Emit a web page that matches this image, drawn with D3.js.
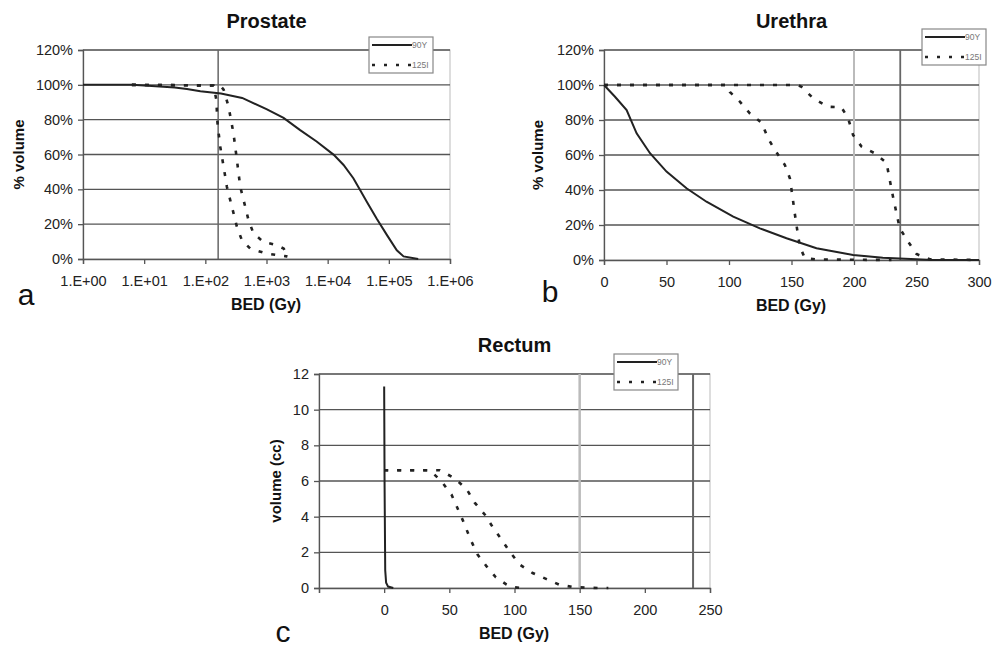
<!DOCTYPE html>
<html>
<head>
<meta charset="utf-8">
<script src="https://cdn.jsdelivr.net/npm/d3@7"></script>
<style>
body { margin:0; background:#fff; }
svg { font-family: "Liberation Sans", Arial, sans-serif; }
</style>
</head>
<body>
<svg id="chart" width="1003" height="649"></svg>
<script>
// ---- data ----
// Prostate, x = BED (Gy) on log axis, y = % volume
var prostY90x = [1, 6.3, 10, 31.6, 50, 83, 180, 400, 1000, 1900, 3550, 6600, 12600, 18200, 26300, 33900, 43600, 63100, 93300, 135000, 174000, 302000]
var prostY90y = [100, 100, 99.6, 98.5, 97.6, 96.3, 95, 92.5, 86, 81, 74, 67.5, 59.8, 54, 46.4, 39.6, 32.9, 23.3, 13.7, 5, 1.5, 0]
var prostIaX = [6.3, 136, 151, 158, 175, 199, 225, 272, 328, 396, 542, 1000, 2140, 2200]
var prostIaY = [100, 99.6, 91.6, 78.1, 64.6, 53, 41.5, 30, 18.5, 10.8, 6, 3.1, 1.5, 1.4]
var prostIbX = [6.3, 175, 199, 239, 288, 328, 372, 449, 508, 614, 893, 1479, 1905, 2188, 2200]
var prostIbY = [100, 99.6, 97.3, 87.7, 72.3, 57, 41.5, 30, 22.3, 14.6, 9.8, 7.9, 6, 2.7, 1.4]

// Urethra, x = BED (Gy), y = % volume
var urY90x = [0, 8.8, 18.1, 26.1, 36.8, 50, 66, 82, 103.4, 124.7, 146, 170, 199.3, 223, 250, 263, 300]
var urY90y = [100, 93.3, 85.7, 72.4, 61, 50.5, 41, 33.3, 24.8, 18.1, 12.4, 6.7, 2.9, 1.3, 0.4, 0, 0]
var urIaX = [0, 98, 100.7, 108.7, 116.6, 126, 131.3, 136.7, 144.7, 148.7, 150.8, 152.6, 154.6, 156.7, 160.7, 170, 230]
var urIaY = [100, 100, 96, 90.5, 83.8, 78.5, 69.5, 62.9, 54.3, 46.7, 36.2, 26.7, 17.1, 7.6, 1, 0.3, 0]
var urIbX = [0, 155, 158, 167.3, 179.3, 190, 195.3, 199.3, 206, 216.6, 226, 228.6, 231.2, 234, 236.6, 243.3, 250, 260.6, 300]
var urIbY = [100, 100, 99, 92.4, 87.6, 87.2, 81, 71.4, 64.8, 61, 55.6, 45.7, 36.2, 26.7, 18.1, 10.5, 3.4, 0.4, 0]

// Rectum, x = BED (Gy), y = volume (cc)
var reY90x = [0, 0.3, 0.8, 1.5, 3, 7]
var reY90y = [11.3, 6, 1, 0.3, 0.08, 0]
var reIaX = [0, 35, 44, 51.7, 56.8, 61.2, 65.8, 71.4, 78.6, 85.7, 93.9, 97.8, 105.5]
var reIaY = [6.6, 6.6, 5.98, 5.23, 4.39, 3.65, 2.8, 1.9, 1.21, 0.6, 0.19, 0.05, 0]
var reIbX = [0, 42.7, 49.1, 54.3, 63.2, 69.6, 77.3, 83.2, 90.1, 96.5, 104.1, 113.9, 124.6, 134.3, 145, 164, 172]
var reIbY = [6.6, 6.6, 6.35, 6.13, 5.55, 4.77, 4.11, 3.42, 2.71, 2.02, 1.31, 0.84, 0.5, 0.19, 0.05, 0, 0]

var prostXTicks = [1, 10, 100, 1000, 10000, 100000, 1000000]
var pctTicks = [0, 20, 40, 60, 80, 100, 120]
var urXTicks = [0, 50, 100, 150, 200, 250, 300]
var reXTicks = [-50, 0, 50, 100, 150, 200, 250]
var reYTicks = [0, 2, 4, 6, 8, 10, 12]
var legendNames = ["90Y", "125I"]

function zip(xs, ys) { return xs.map(function(x, i) { return [x, ys[i]] }) }

var svg = d3.select("#chart")

var drawPanel = function(p)
{
    var g = svg.append("g")
    var x = p.xScale.range([p.left, p.right])
    var y = d3.scaleLinear().domain(p.yDomain).range([p.bottom, p.top])

    // plot area frame
    g.append("rect")
        .attr("x", p.left).attr("y", p.top)
        .attr("width", p.right - p.left).attr("height", p.bottom - p.top)
        .attr("fill", "none").attr("stroke", "#bbb").attr("stroke-width", 1)

    // horizontal gridlines
    g.selectAll(".grid").data(p.yTicks.slice(1)).enter()
        .append("line")
        .attr("x1", p.left).attr("x2", p.right)
        .attr("y1", function(d) { return y(d) }).attr("y2", function(d) { return y(d) })
        .attr("stroke", "#555").attr("stroke-width", 1.3)

    // reference lines
    p.refs.forEach(function(r)
    {
        g.append("line")
            .attr("x1", x(r.v)).attr("x2", x(r.v))
            .attr("y1", p.top).attr("y2", p.bottom)
            .attr("stroke", r.c).attr("stroke-width", r.w)
    })

    // axes
    var xAxis = d3.axisBottom(x).tickValues(p.xTicks).tickSize(5).tickFormat(p.xFormat)
    var yAxis = d3.axisLeft(y).tickValues(p.yTicks).tickSize(5).tickFormat(p.yFormat)
    var gx = g.append("g").attr("transform", "translate(0," + p.bottom + ")").call(xAxis)
    var gy = g.append("g").attr("transform", "translate(" + p.left + ",0)").call(yAxis)
    ;[gx, gy].forEach(function(a)
    {
        a.select(".domain").attr("stroke", "#555").attr("stroke-width", 1.3)
        a.selectAll(".tick line").attr("stroke", "#555").attr("stroke-width", 1.3)
        a.selectAll(".tick text").attr("font-size", 14.5).attr("fill", "#222")
            .attr("font-family", "'Liberation Sans', Arial, sans-serif")
    })
    gx.selectAll(".tick text").attr("y", 27).attr("dy", 0)
    gy.selectAll(".tick text").attr("x", -10)

    // curves
    var line = d3.line().x(function(d) { return x(d[0]) }).y(function(d) { return y(d[1]) })
    g.append("path").datum(p.solid)
        .attr("d", line).attr("fill", "none").attr("stroke", "#222").attr("stroke-width", 2)
    p.dashed.forEach(function(s)
    {
        g.append("path").datum(s)
            .attr("d", line).attr("fill", "none").attr("stroke", "#222")
            .attr("stroke-width", 2.6).attr("stroke-dasharray", "4,9")
    })

    // titles
    g.append("text").attr("x", (p.left + p.right) / 2).attr("y", p.top - 22)
        .attr("text-anchor", "middle").attr("font-size", 20).attr("font-weight", "bold")
        .attr("fill", "#111").text(p.title)
    g.append("text").attr("x", p.xLabelX).attr("y", p.bottom + 51)
        .attr("text-anchor", "middle").attr("font-size", 16).attr("font-weight", "bold")
        .attr("fill", "#111").text("BED (Gy)")
    g.append("text")
        .attr("transform", "translate(" + p.yLabelX + "," + ((p.top + p.bottom) / 2) + ") rotate(-90)")
        .attr("text-anchor", "middle").attr("font-size", 15).attr("font-weight", "bold")
        .attr("fill", "#111").text(p.yLabel)
    g.append("text").attr("x", p.letter[0]).attr("y", p.letter[1])
        .attr("text-anchor", "middle").attr("font-size", 30).attr("fill", "#111").text(p.letterText)

    // legend
    var lg = g.append("g").attr("transform", "translate(" + p.legend[0] + "," + p.legend[1] + ")")
    lg.append("rect").attr("width", 64).attr("height", 36)
        .attr("fill", "#fff").attr("stroke", "#888").attr("stroke-width", 1.2)
    legendNames.forEach(function(name, i)
    {
        var ly = 8 + i * 20
        lg.append("line").attr("x1", 3).attr("x2", 43).attr("y1", ly).attr("y2", ly)
            .attr("stroke", "#222").attr("stroke-width", i == 0 ? 2 : 2.5)
            .attr("stroke-dasharray", i == 0 ? null : "3,9")
        lg.append("text").attr("x", 43).attr("y", ly + 3)
            .attr("font-size", 8.5).attr("fill", "#777").text(name)
    })
}

var logFmt = function(d) { return "1.E+" + String(Math.round(Math.log10(d))).padStart(2, "0") }
var pctFmt = function(d) { return d + "%" }

drawPanel({
    title: "Prostate", letterText: "a", yLabel: "% volume",
    xScale: d3.scaleLog().domain([1, 1000000]), yDomain: [0, 120],
    left: 83, right: 450, top: 50, bottom: 259,
    xTicks: prostXTicks, yTicks: pctTicks, xFormat: logFmt, yFormat: pctFmt,
    refs: [{ v: 162, c: "#666", w: 1.5 }],
    solid: zip(prostY90x, prostY90y),
    dashed: [zip(prostIaX, prostIaY), zip(prostIbX, prostIbY)],
    xLabelX: 266, yLabelX: 24, letter: [26, 305], legend: [369, 37]
})

drawPanel({
    title: "Urethra", letterText: "b", yLabel: "% volume",
    xScale: d3.scaleLinear().domain([0, 300]), yDomain: [0, 120],
    left: 604, right: 979, top: 50, bottom: 260,
    xTicks: urXTicks, yTicks: pctTicks, xFormat: d3.format("d"), yFormat: pctFmt,
    refs: [{ v: 200, c: "#bbb", w: 2 }, { v: 237, c: "#666", w: 1.8 }],
    solid: zip(urY90x, urY90y),
    dashed: [zip(urIaX, urIaY), zip(urIbX, urIbY)],
    xLabelX: 791, yLabelX: 543, letter: [550, 302], legend: [922, 29]
})

drawPanel({
    title: "Rectum", letterText: "c", yLabel: "volume (cc)",
    xScale: d3.scaleLinear().domain([-50, 250]), yDomain: [0, 12],
    left: 319, right: 710, top: 374, bottom: 588,
    xTicks: reXTicks, yTicks: reYTicks,
    xFormat: function(d) { return d < 0 ? "" : d }, yFormat: d3.format("d"),
    refs: [{ v: 150, c: "#bbb", w: 2.5 }, { v: 237, c: "#666", w: 2 }],
    solid: zip(reY90x, reY90y),
    dashed: [zip(reIaX, reIaY), zip(reIbX, reIbY)],
    xLabelX: 514, yLabelX: 281, letter: [283, 642], legend: [614, 354]
})
</script>
</body>
</html>
